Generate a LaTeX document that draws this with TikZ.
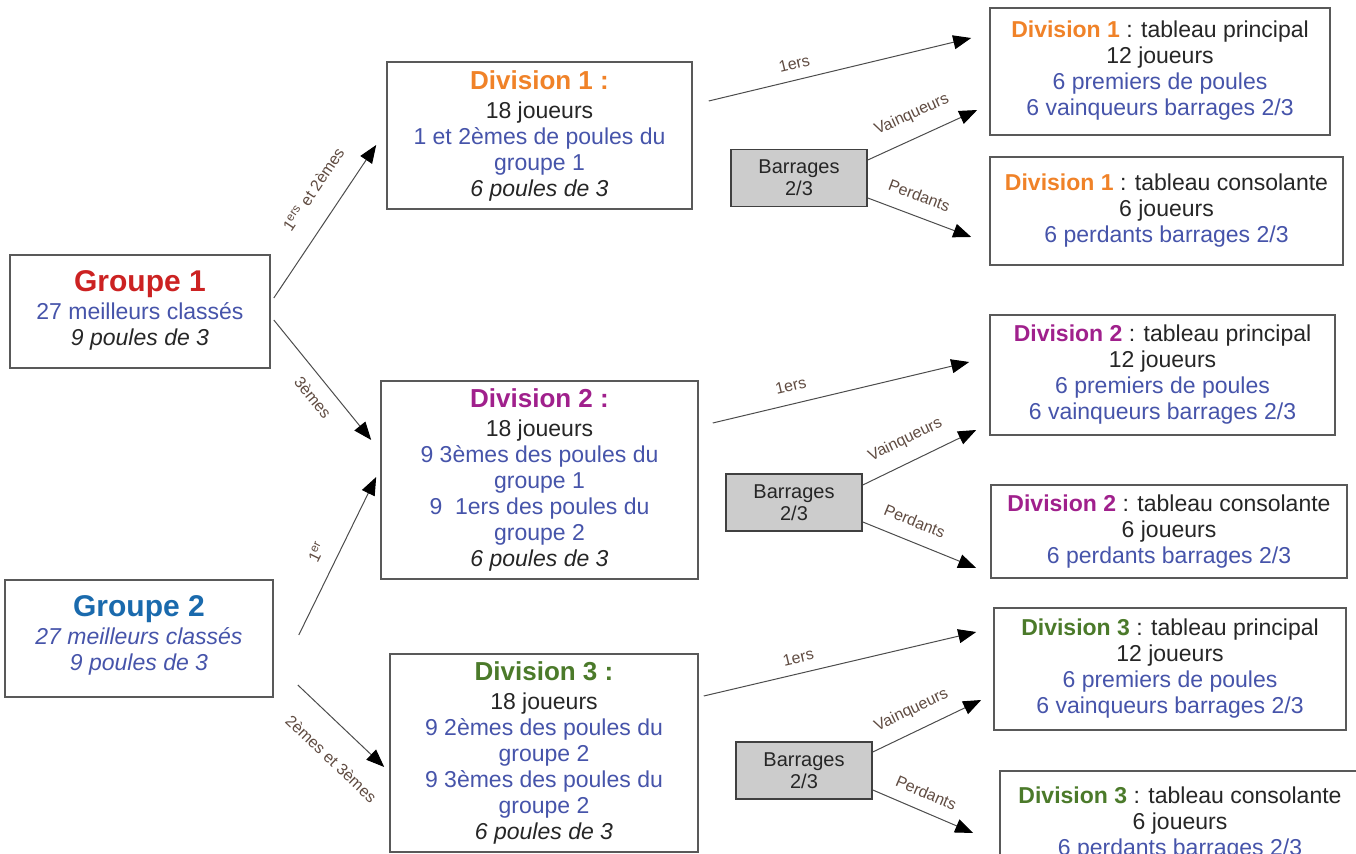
\documentclass[tikz,border=0pt]{standalone}
\usepackage{fontspec}
\setmainfont{Liberation Sans}
\usepackage{tikz}
\usetikzlibrary{arrows.meta, positioning}
\usepackage{color}
\definecolor{grpred}{RGB}{204,34,34}
\definecolor{grpblue}{RGB}{26,106,173}
\definecolor{divorange}{RGB}{240,130,40}
\definecolor{divmagenta}{RGB}{160,32,140}
\definecolor{divgreen}{RGB}{75,122,42}
\definecolor{txtblue}{RGB}{70,84,170}
\definecolor{lblbrown}{RGB}{95,75,65}
% extra depth under the last line, lifts the text in its box
\newcommand{\lowpad}[1]{\rule[-#1]{0pt}{#1}}

\begin{document}
\begin{tikzpicture}[
            x=0.5pt, y=-0.5pt,
            every node/.style={font=\fontsize{11.5}{13}\selectfont, text=black!85},
            box/.style={draw=black!65, line width=0.8pt, fill=white, align=center, inner sep=2pt},
            barr/.style={draw=black!75, line width=0.8pt, fill=black!20, align=center, inner sep=1pt,
                    font=\fontsize{10}{11}\selectfont, minimum width=68pt, minimum height=28.5pt},
            arrow/.style={-{Triangle[length=9pt, width=7pt, color=black]}, draw=black!70, line width=0.5pt},
            lbl/.style={sloped, font=\fontsize{8}{9}\selectfont, text=lblbrown, inner sep=1pt}
        ]
        \useasboundingbox (0,0) rectangle (1356,854);

        % Groupes
        \node[box, minimum width=130pt, minimum height=56.5pt] (g1) at (140,311.5)
            {{\fontsize{15}{17}\selectfont\bfseries\color{grpred}Groupe 1}\\[1pt]
             {\color{txtblue}27 meilleurs classés}\\ \textit{9 poules de 3}\lowpad{3pt}};
        \node[box, minimum width=134pt, minimum height=58.5pt] (g2) at (139,638.5)
            {{\fontsize{15}{17}\selectfont\bfseries\color{grpblue}Groupe 2}\\[1pt]
             {\color{txtblue}\itshape 27 meilleurs classés}\\ {\color{txtblue}\itshape 9 poules de 3}\lowpad{5pt}};

        % Divisions
        \node[box, minimum width=152.5pt, minimum height=73.5pt] (d1) at (539.5,135.5)
            {{\fontsize{13}{15}\selectfont\bfseries\color{divorange}Division 1 :}\\[1.5pt]
             18 joueurs\\ {\color{txtblue}1 et 2èmes de poules du}\\ {\color{txtblue}groupe 1}\\ \textit{6 poules de 3}};
        \node[box, minimum width=158.5pt, minimum height=99pt] (d2) at (539.5,480)
            {{\fontsize{13}{15}\selectfont\bfseries\color{divmagenta}Division 2 :}\\[1.5pt]
             18 joueurs\\ {\color{txtblue}9 3èmes des poules du}\\ {\color{txtblue}groupe 1}\\
             {\color{txtblue}9 \ 1ers des poules du}\\ {\color{txtblue}groupe 2}\\ \textit{6 poules de 3}};
        \node[box, minimum width=154pt, minimum height=99pt] (d3) at (544,753)
            {{\fontsize{13}{15}\selectfont\bfseries\color{divgreen}Division 3 :}\\[1.5pt]
             18 joueurs\\ {\color{txtblue}9 2èmes des poules du}\\ {\color{txtblue}groupe 2}\\
             {\color{txtblue}9 3èmes des poules du}\\ {\color{txtblue}groupe 2}\\ \textit{6 poules de 3}};

        % Barrages
        \node[barr] (b1) at (799,178) {Barrages\\2/3};
        \node[barr] (b2) at (794,502.5) {Barrages\\2/3};
        \node[barr] (b3) at (804,770.5) {Barrages\\2/3};

        % Tableaux
        \node[box, minimum width=170pt, minimum height=63.5pt] (d1p) at (1160,71.5)
            {{\bfseries\color{divorange}Division 1} : tableau principal\\ 12 joueurs\\
             {\color{txtblue}6 premiers de poules}\\ {\color{txtblue}6 vainqueurs barrages 2/3}\lowpad{3pt}};
        \node[box, minimum width=176.5pt, minimum height=54pt] (d1c) at (1166.5,211)
            {{\bfseries\color{divorange}Division 1} : tableau consolante\\ 6 joueurs\\
             {\color{txtblue}6 perdants barrages 2/3}\lowpad{3pt}};
        \node[box, minimum width=172.5pt, minimum height=60pt] (d2p) at (1162.5,375)
            {{\bfseries\color{divmagenta}Division 2} : tableau principal\\ 12 joueurs\\
             {\color{txtblue}6 premiers de poules}\\ {\color{txtblue}6 vainqueurs barrages 2/3}\lowpad{3pt}};
        \node[box, minimum width=178pt, minimum height=46.5pt] (d2c) at (1169,531.5)
            {{\bfseries\color{divmagenta}Division 2} : tableau consolante\\ 6 joueurs\\
             {\color{txtblue}6 perdants barrages 2/3}\lowpad{2pt}};
        \node[box, minimum width=176pt, minimum height=61pt] (d3p) at (1170,669)
            {{\bfseries\color{divgreen}Division 3} : tableau principal\\ 12 joueurs\\
             {\color{txtblue}6 premiers de poules}\\ {\color{txtblue}6 vainqueurs barrages 2/3}\lowpad{2pt}};
        \node[box, minimum width=180pt, minimum height=54pt] (d3c) at (1180,825)
            {{\bfseries\color{divgreen}Division 3} : tableau consolante\\ 6 joueurs\\
             {\color{txtblue}6 perdants barrages 2/3}\lowpad{4pt}};

        % Groupes -> divisions
        \draw[arrow] ([shift={(3,-13.5)}]g1.east) -- node[lbl, pos=0.61, above=9.5pt] {1\textsuperscript{ers} et 2èmes} ([shift={(-10,9.5)}]d1.west);
        \draw[arrow] ([shift={(3,8.5)}]g1.east) -- node[lbl, pos=0.55, below=5pt] {3èmes} ([shift={(-9,-40)}]d2.west);
        \draw[arrow] ([shift={(25,-3.5)}]g2.east) -- node[lbl, pos=0.47, above=6pt] {1\textsuperscript{er}} ([shift={(-4,-3)}]d2.west);
        \draw[arrow] ([shift={(24,46.5)}]g2.east) -- node[lbl, pos=0.63, below=11pt] {2èmes et 3èmes} ([shift={(-5,14)}]d3.west);

        % Division 1
        \draw[arrow] ([shift={(16,-34.5)}]d1.east) -- node[lbl, pos=0.34, above=4pt] {1ers} ([shift={(-18,-33.5)}]d1p.west);
        \draw[arrow] ([shift={(0,-18)}]b1.east) -- node[lbl, pos=0.49, above=6.5pt] {Vainqueurs} ([shift={(-12,38.5)}]d1p.west);
        \draw[arrow] ([shift={(0,20)}]b1.east) -- node[lbl, pos=0.43, above=6pt] {Perdants} ([shift={(-18,26)}]d1c.west);

        % Division 2
        \draw[arrow] ([shift={(14,-57)}]d2.east) -- node[lbl, pos=0.32, above=5pt] {1ers} ([shift={(-20,-13)}]d2p.west);
        \draw[arrow] ([shift={(0,-17.5)}]b2.east) -- node[lbl, pos=0.46, above=6pt] {Vainqueurs} ([shift={(-13,55)}]d2p.west);
        \draw[arrow] ([shift={(0,19.5)}]b2.east) -- node[lbl, pos=0.39, above=6pt] {Perdants} ([shift={(-14,36.5)}]d2c.west);

        % Division 3
        \draw[arrow] ([shift={(5,-57)}]d3.east) -- node[lbl, pos=0.36, above=4pt] {1ers} ([shift={(-17,-37)}]d3p.west);
        \draw[arrow] ([shift={(0,-18.5)}]b3.east) -- node[lbl, pos=0.44, above=5.5pt] {Vainqueurs} ([shift={(-12,31)}]d3p.west);
        \draw[arrow] ([shift={(0,19.5)}]b3.east) -- node[lbl, pos=0.46, above=5pt] {Perdants} ([shift={(-26,8)}]d3c.west);
    \end{tikzpicture}
\end{document}
